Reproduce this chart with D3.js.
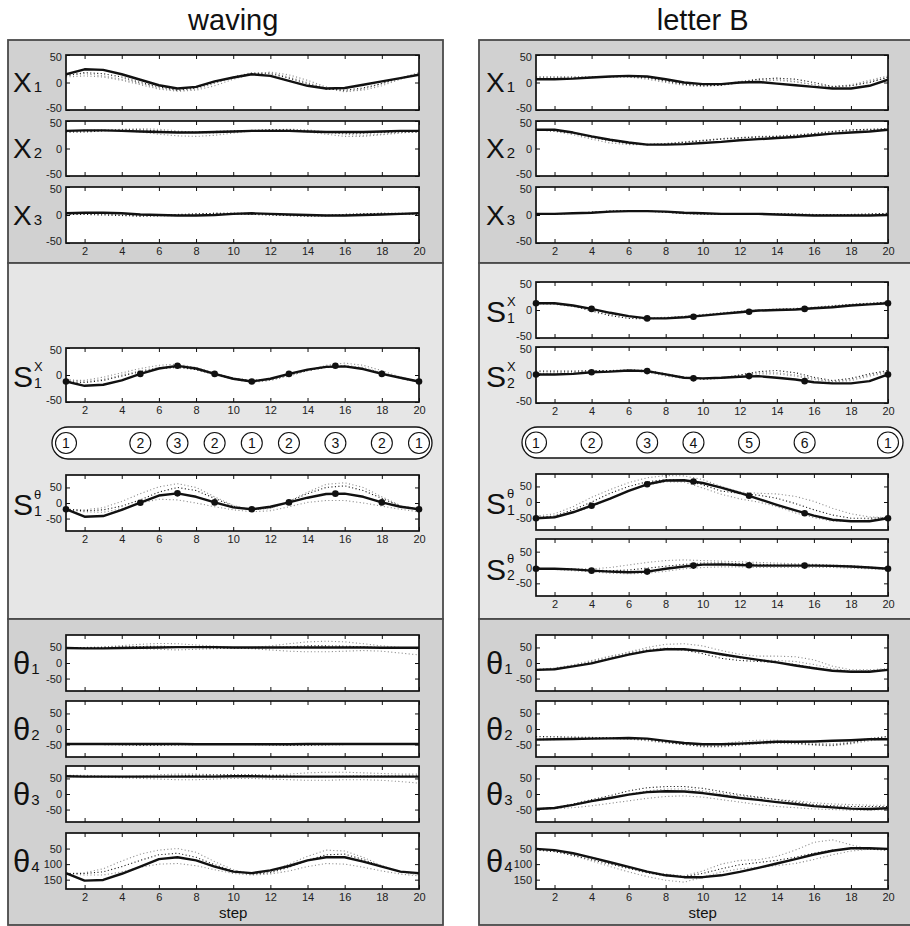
<!DOCTYPE html>
<html><head><meta charset="utf-8">
<script src="https://cdn.jsdelivr.net/npm/d3@7"></script>
<style>body{margin:0;background:#fff} svg{display:block} text{font-family:"Liberation Sans",Arial,Helvetica,sans-serif}</style>
</head><body><svg id="c" width="910" height="926"></svg>
<script>
// ---------------- DATA ----------------
const steps = [1,2,3,4,5,6,7,8,9,10,11,12,13,14,15,16,17,18,19,20];
const xTicks = [2,4,6,8,10,12,14,16,18,20];
const yTicksStd = [-50,0,50];
const yTicksTheta4 = [50,100,150];
const columnTitles = ["waving","letter B"];

// waving
const wavingX1 = [15,24,23,15,5,-5,-11,-8,2,9,15,12,3,-6,-11,-10,-4,2,8,14];
const wavingX1Trials = [
  [10,12,10,4,-4,-12,-16,-14,-6,6,15,19,14,4,-8,-16,-14,-6,6,17],
  [14,16,12,6,-2,-10,-15,-12,-2,10,18,18,10,0,-10,-17,-12,-2,8,18],
  [12,18,16,10,0,-8,-14,-10,0,10,16,16,8,-2,-12,-14,-10,-2,8,15]];
const wavingX2 = [32,33,33,32,31,30,29,29,30,31,32,32,32,31,30,30,30,31,32,32];
const wavingX2Trials = [
  [30,31,33,35,36,35,32,29,28,30,32,34,35,34,30,26,24,26,29,30],
  [32,33,34,33,30,26,23,22,24,28,32,34,33,30,26,22,22,25,28,31],
  [30,30,32,34,34,32,30,30,31,32,33,34,34,32,29,28,28,29,30,30]];
const wavingX3 = [3,4,4,3,1,0,-1,-1,0,2,3,2,1,0,-1,-1,0,1,2,3];
const wavingX3Trials = [
  [3,3,2,0,-2,-2,-1,1,3,4,3,1,-1,-2,-2,0,2,3,3,3],
  [2,2,1,0,-1,-1,0,2,3,3,2,0,-1,-1,0,1,2,3,3,2],
  [1,1,0,-1,-2,-1,1,2,3,2,1,0,-1,-2,-1,1,2,3,2,1]];
const wavingS1x = [-12,-20,-18,-10,2,12,17,12,2,-7,-12,-7,2,10,15,16,11,2,-5,-12];
const wavingS1xTrials = [
  [-10,-10,-4,4,12,18,20,14,4,-6,-12,-10,-2,8,18,22,18,8,-4,-12],
  [-8,-12,-8,0,8,14,16,10,0,-8,-14,-10,0,10,16,18,14,4,-6,-14],
  [-12,-14,-10,-2,6,12,14,10,2,-6,-10,-8,0,8,14,16,12,4,-6,-14]];
const wavingKeySteps = [1,5,7,9,11,13,15.5,18,20];
const wavingKeyLabels = ["1","2","3","2","1","2","3","2","1"];
const wavingS1xKeys = [-12,2,17,2,-12,2,17,2,-12];
const wavingS1t = [-20,-44,-42,-22,1,24,31,20,2,-14,-20,-12,2,17,29,30,20,2,-12,-20];
const wavingS1tTrials = [
  [-20,-22,-15,5,30,52,62,50,20,-8,-22,-18,5,35,60,65,50,20,-8,-22],
  [-22,-28,-30,-18,0,12,10,0,-12,-22,-28,-25,-12,2,8,8,0,-10,-20,-28],
  [-20,-25,-22,-10,10,35,50,40,15,-10,-22,-15,5,30,50,55,40,15,-10,-20]];
const wavingS1tKeys = [-20,1,31,2,-20,2,30,2,-20];
const wavingT1 = [48,47,47,48,49,50,51,51,51,50,50,50,50,50,50,50,50,49,49,49];
const wavingT1Trials = [
  [50,50,52,56,60,63,62,58,54,50,50,55,62,68,70,68,62,55,50,48],
  [50,48,48,48,46,44,42,44,46,48,46,42,38,36,36,38,40,38,32,26],
  [50,50,50,52,53,54,52,50,48,48,48,50,52,55,55,54,52,50,48,46]];
const wavingT2 = [-48,-48,-48,-48,-48,-48,-48,-49,-49,-49,-49,-49,-49,-48,-48,-48,-48,-48,-48,-48];
const wavingT2Trials = [
  [-48,-48,-49,-50,-51,-51,-50,-49,-48,-48,-49,-50,-51,-51,-50,-49,-48,-48,-48,-48],
  [-47,-47,-47,-48,-49,-49,-49,-48,-47,-47,-47,-48,-49,-50,-49,-48,-47,-47,-47,-47],
  [-49,-49,-50,-51,-52,-52,-51,-50,-49,-49,-50,-51,-52,-52,-51,-50,-49,-49,-49,-49]];
const wavingT3 = [57,56,56,56,56,56,56,56,56,57,57,56,56,56,56,56,56,56,56,56];
const wavingT3Trials = [
  [60,60,58,56,58,62,64,64,62,60,58,60,64,68,70,70,68,66,64,64],
  [56,55,54,52,50,48,46,46,48,50,50,48,46,44,44,46,46,44,40,35],
  [58,57,56,55,55,56,58,60,61,62,62,60,58,56,56,57,58,58,58,58]];
const wavingT4 = [129,153,151,131,108,84,78,88,108,124,129,120,106,88,78,78,92,108,124,129];
const wavingT4Trials = [
  [130,128,115,90,68,55,50,62,92,118,132,125,100,75,55,58,78,105,125,135],
  [130,135,135,125,110,100,98,105,118,130,135,132,122,108,98,100,110,122,132,138],
  [130,130,125,108,88,70,65,78,102,122,132,128,110,88,70,68,85,108,125,132]];

// letter B
const letterX1 = [6,6,7,9,11,12,11,6,0,-3,-3,0,1,-2,-5,-8,-11,-11,-6,5];
const letterX1Trials = [
  [8,8,8,9,10,10,8,2,-4,-6,-4,2,6,6,2,-4,-8,-4,4,12],
  [6,7,8,9,10,10,6,0,-5,-7,-5,0,3,4,1,-4,-8,-6,2,8],
  [10,10,10,10,11,11,9,3,-3,-6,-5,0,6,8,6,0,-7,-6,0,10]];
const letterX2 = [34,34,29,22,16,11,7,7,8,10,12,15,17,19,21,24,27,29,31,34];
const letterX2Trials = [
  [34,31,25,17,10,7,7,9,12,15,18,20,21,22,23,26,29,32,34,35],
  [35,33,29,22,15,10,8,9,12,15,18,20,22,23,25,28,31,33,34,35],
  [34,32,28,20,14,9,7,8,11,14,17,19,21,22,24,27,31,34,35,36]];
const letterX3 = [2,2,3,4,6,7,7,6,4,3,2,2,2,1,0,-1,-1,-1,-1,0];
const letterX3Trials = [
  [1,2,3,5,7,8,7,5,2,1,1,2,2,2,1,0,0,0,1,2],
  [2,2,3,4,6,7,7,5,3,2,1,1,1,1,1,0,-1,0,1,2],
  [2,2,3,5,7,8,7,5,3,2,2,2,2,2,2,1,1,1,2,3]];
const letterKeySteps = [1,4,7,9.5,12.5,15.5,20];
const letterKeyLabels = ["1","2","3","4","5","6","1"];
const letterS1x = [12,12,8,2,-5,-11,-15,-15,-13,-10,-7,-4,-1,0,1,3,5,8,10,12];
const letterS1xTrials = [
  [12,10,6,0,-8,-12,-14,-13,-11,-8,-5,-2,0,2,3,5,8,10,12,13],
  [11,11,8,2,-5,-11,-15,-15,-13,-10,-7,-4,-2,0,1,3,6,9,11,12],
  [12,12,8,-2,-10,-15,-16,-14,-12,-9,-6,-3,-1,1,2,4,7,10,12,14]];
const letterS1xKeys = [12,2,-15,-12,-3,2,12];
const letterS2x = [1,1,2,5,6,8,7,1,-5,-6,-5,-3,-2,-5,-8,-13,-15,-15,-11,1];
const letterS2xTrials = [
  [3,4,5,6,7,8,6,0,-5,-7,-5,0,4,4,0,-6,-12,-8,0,6],
  [2,3,5,7,8,8,5,-2,-6,-8,-6,-2,2,2,-2,-8,-12,-10,-2,4],
  [7,7,7,8,8,9,8,2,-4,-7,-6,0,6,8,4,-4,-10,-6,2,8]];
const letterS2xKeys = [1,5,7,-6,-2,-11,1];
const letterS1t = [-52,-49,-33,-12,11,36,57,69,70,61,46,29,10,-9,-27,-44,-57,-62,-62,-52];
const letterS1tTrials = [
  [-45,-38,-15,15,40,62,78,85,84,72,50,32,28,26,18,2,-20,-38,-48,-50],
  [-52,-48,-35,-15,10,35,55,65,64,45,25,10,0,-15,-35,-50,-62,-62,-58,-50],
  [-50,-45,-25,0,28,50,65,72,70,55,35,28,22,12,-5,-25,-42,-52,-52,-50]];
const letterS1tKeys = [-52,-12,57,66,20,-36,-52];
const letterS2t = [-4,-4,-6,-10,-13,-15,-13,-4,3,9,10,8,6,6,6,6,5,3,0,-4];
const letterS2tTrials = [
  [-4,-4,-4,-4,0,8,16,22,24,22,20,18,16,14,12,10,8,6,2,-4],
  [-4,-6,-10,-14,-18,-20,-18,-12,-4,0,2,2,0,0,0,0,0,-2,-4,-6],
  [-4,-5,-6,-8,-10,-8,-2,4,10,14,14,12,10,8,8,8,6,4,0,-4]];
const letterS2tKeys = [-4,-10,-13,6,7,6,-4];
const letterT1 = [-22,-20,-11,-1,13,27,38,44,44,38,28,19,10,2,-8,-17,-25,-28,-28,-22];
const letterT1Trials = [
  [-22,-18,-8,5,20,35,50,60,62,55,40,28,22,22,20,10,-10,-22,-22,-18],
  [-20,-16,-6,8,22,34,44,48,46,38,25,15,10,8,5,-5,-18,-26,-26,-20],
  [-22,-20,-10,2,15,30,40,45,42,30,15,8,5,2,-5,-15,-25,-28,-26,-22]];
const letterT2 = [-34,-33,-32,-31,-30,-29,-31,-38,-45,-49,-49,-47,-44,-41,-41,-40,-38,-36,-33,-33];
const letterT2Trials = [
  [-30,-30,-30,-30,-30,-32,-38,-45,-50,-52,-48,-40,-36,-36,-40,-46,-48,-42,-30,-24],
  [-34,-34,-33,-32,-31,-32,-36,-42,-48,-58,-58,-52,-48,-46,-48,-52,-54,-48,-38,-30],
  [-24,-25,-26,-27,-28,-30,-34,-42,-50,-55,-55,-50,-45,-42,-45,-50,-52,-45,-32,-24]];
const letterT3 = [-48,-45,-35,-23,-13,-2,6,9,8,3,-5,-13,-19,-26,-32,-39,-43,-47,-48,-46];
const letterT3Trials = [
  [-50,-46,-36,-24,-12,0,10,16,16,10,2,-6,-12,-18,-22,-28,-32,-34,-36,-36],
  [-48,-47,-44,-38,-30,-22,-14,-8,-6,-10,-18,-26,-34,-40,-44,-48,-50,-52,-52,-50],
  [-48,-44,-32,-18,-5,10,20,24,24,18,8,-2,-10,-18,-26,-34,-38,-40,-40,-40]];
const letterT4 = [51,55,65,79,94,109,124,136,142,142,136,125,112,98,84,69,57,49,49,51];
const letterT4Trials = [
  [52,55,65,78,95,112,125,132,138,122,100,88,86,75,55,30,22,38,52,55],
  [52,58,72,90,108,125,140,152,158,142,125,115,110,105,98,85,70,58,52,52],
  [55,60,72,86,100,114,128,138,140,130,115,102,95,88,78,65,55,50,52,55]];

// ---------------- DRAWING ----------------
const svg = d3.select("#c");
const FONT = '"Liberation Sans",Arial,Helvetica,sans-serif';
const trialStyles = [{c:"#8e8e8e"},{c:"#8e8e8e"},{c:"#1a1a1a"}];
let clipId = 0;

function bigLabel(kind, lx, cy, letter, sub, sup){
  const g = svg.append("g").attr("fill","#111");
  if(kind==="X"){
    const t = g.append("text").attr("x",lx).attr("y",cy+9.5).attr("font-size",28).text(letter);
    t.append("tspan").attr("font-size",15).attr("dx",2).text(sub);
  } else if(kind==="S"){
    g.append("text").attr("x",lx).attr("y",cy+12).attr("font-size",30).text("S");
    g.append("text").attr("x",lx+21).attr("y",cy-4.5).attr("font-size",13).text(sup);
    g.append("text").attr("x",lx+21).attr("y",cy+12.5).attr("font-size",14).text(sub);
  } else {
    const t = g.append("text").attr("x",lx).attr("y",cy+11).attr("font-size",31).text("θ");
    t.append("tspan").attr("font-size",15).attr("dx",1).text(sub);
  }
}

function drawPlot(cfg){
  const x = d3.scaleLinear().domain([1,20]).range([cfg.x0,cfg.x1]);
  const y = d3.scaleLinear().domain(cfg.yDomain).range([cfg.y1,cfg.y0]);
  const g = svg.append("g");
  const id = "clip"+(clipId++);
  g.append("clipPath").attr("id",id).append("rect")
    .attr("x",cfg.x0).attr("y",cfg.y0).attr("width",cfg.x1-cfg.x0).attr("height",cfg.y1-cfg.y0);
  g.append("rect").attr("x",cfg.x0).attr("y",cfg.y0).attr("width",cfg.x1-cfg.x0).attr("height",cfg.y1-cfg.y0).attr("fill","#fff");
  const line = d3.line().x((d,i)=>x(steps[i])).y(d=>y(d));
  const lg = g.append("g").attr("clip-path",`url(#${id})`);
  cfg.trials.forEach((t,i)=>{
    lg.append("path").datum(t).attr("d",line).attr("fill","none")
      .attr("stroke",trialStyles[i].c).attr("stroke-width",1.1).attr("stroke-dasharray","1.1,2.4");
  });
  lg.append("path").datum(cfg.mean).attr("d",line).attr("fill","none")
    .attr("stroke","#111").attr("stroke-width",2.4).attr("stroke-linejoin","round");
  if(cfg.keys){
    g.selectAll(null).data(cfg.keys).enter().append("circle")
      .attr("cx",(d,i)=>x(cfg.keySteps[i])).attr("cy",d=>y(d)).attr("r",3.3).attr("fill","#111");
  }
  const fmt = d=>String(d);
  const style = a=>{a.select(".domain").remove(); a.selectAll("line").attr("stroke","#111").attr("stroke-width",1);
    a.selectAll("text").attr("fill","#222").attr("font-family",FONT).attr("font-size",11);};
  g.append("g").attr("transform",`translate(0,${cfg.y1})`)
    .call(d3.axisBottom(x).tickValues(xTicks).tickSize(-4).tickPadding(4).tickFormat(cfg.xLabels?fmt:()=>""))
    .call(style);
  g.append("g").attr("transform",`translate(0,${cfg.y0})`)
    .call(d3.axisTop(x).tickValues(xTicks).tickSize(-4).tickFormat(()=>"")).call(style);
  const ya = g.append("g").attr("transform",`translate(${cfg.x0},0)`)
    .call(d3.axisLeft(y).tickValues(cfg.yTicks).tickSize(-4).tickPadding(4).tickFormat(fmt)).call(style);
  // nudge edge labels slightly inward (as in the reference)
  ya.selectAll(".tick text").attr("y", d => {
    const py = y(d);
    if (Math.abs(py-cfg.y0) < 3) return 2;
    if (Math.abs(py-cfg.y1) < 3) return -2;
    return 0;
  });
  g.append("g").attr("transform",`translate(${cfg.x1},0)`)
    .call(d3.axisRight(y).tickValues(cfg.yTicks).tickSize(-4).tickFormat(()=>"")).call(style);
  g.append("rect").attr("x",cfg.x0).attr("y",cfg.y0).attr("width",cfg.x1-cfg.x0).attr("height",cfg.y1-cfg.y0)
    .attr("fill","none").attr("stroke","#111").attr("stroke-width",1.7);
  const cy = (cfg.y0+cfg.y1)/2;
  bigLabel(cfg.kind, cfg.x0-(cfg.col===0?53:50), cy, cfg.letter, cfg.sub, cfg.sup);
  return x;
}

function capsule(x, col, y0, y1, keySteps, labels){
  const left = col===0?52:522, right = col===0?432:903;
  const h = y1-y0;
  svg.append("rect").attr("x",left).attr("y",y0).attr("width",right-left).attr("height",h)
    .attr("rx",h/2).attr("ry",h/2).attr("fill","#fff").attr("stroke","#111").attr("stroke-width",1.3);
  const cy=(y0+y1)/2;
  const g = svg.append("g");
  const sel = g.selectAll(null).data(keySteps).enter().append("g")
    .attr("transform",d=>`translate(${x(d)},${cy})`);
  sel.append("circle").attr("r",10.5).attr("fill","#fff").attr("stroke","#111").attr("stroke-width",1.1);
  sel.append("text").attr("text-anchor","middle").attr("dy","0.36em").attr("font-size",14).attr("fill","#111")
    .text((d,i)=>labels[i]);
}

const cols = [
  {px0:8, px1:443, x0:66, x1:419},
  {px0:479, px1:913, x0:536, x1:888}
];
const panelY = [40,263,619,925];
const panelFill = ["#d1d1d1","#e6e6e6","#d1d1d1"];

cols.forEach((c,ci)=>{
  for(let k=0;k<3;k++){
    svg.append("rect").attr("x",c.px0).attr("y",panelY[k]).attr("width",c.px1-c.px0).attr("height",panelY[k+1]-panelY[k])
      .attr("fill",panelFill[k]).attr("stroke","#4a4a4a").attr("stroke-width",1.8);
  }
  const xs = d3.scaleLinear().domain([1,20]).range([c.x0,c.x1]);
  svg.append("text").attr("x",xs(10)).attr("y",30).attr("text-anchor","middle").attr("font-size",29).attr("fill","#111")
    .text(columnTitles[ci]);
  svg.append("text").attr("x",xs(10)).attr("y",918).attr("text-anchor","middle").attr("font-size",15).attr("fill","#111")
    .text("step");
});

function P(col, y0, y1, kind, letter, sub, sup, mean, trials, yDomain, yTicks, xLabels, keySteps, keys){
  const c = cols[col];
  return drawPlot({col, x0:c.x0, x1:c.x1, y0, y1, kind, letter, sub, sup, mean, trials, yDomain, yTicks, xLabels, keySteps, keys});
}

// waving column
P(0,55,110,"X","X","1",null,wavingX1,wavingX1Trials,[-50,50],yTicksStd,false);
P(0,121,176,"X","X","2",null,wavingX2,wavingX2Trials,[-50,50],yTicksStd,false);
P(0,187,243,"X","X","3",null,wavingX3,wavingX3Trials,[-50,50],yTicksStd,true);
const xw = P(0,348,402,"S","S","1","X",wavingS1x,wavingS1xTrials,[-50,50],yTicksStd,true,wavingKeySteps,wavingS1xKeys);
capsule(xw,0,427,459,wavingKeySteps,wavingKeyLabels);
P(0,475,531,"S","S","1","θ",wavingS1t,wavingS1tTrials,[-90,90],yTicksStd,true,wavingKeySteps,wavingS1tKeys);
P(0,635,691,"T","θ","1",null,wavingT1,wavingT1Trials,[-90,90],yTicksStd,false);
P(0,701,757,"T","θ","2",null,wavingT2,wavingT2Trials,[-90,90],yTicksStd,false);
P(0,766,822,"T","θ","3",null,wavingT3,wavingT3Trials,[-90,90],yTicksStd,false);
P(0,833,889,"T","θ","4",null,wavingT4,wavingT4Trials,[180,0],yTicksTheta4,true);

// letter B column
P(1,55,110,"X","X","1",null,letterX1,letterX1Trials,[-50,50],yTicksStd,false);
P(1,121,176,"X","X","2",null,letterX2,letterX2Trials,[-50,50],yTicksStd,false);
P(1,187,243,"X","X","3",null,letterX3,letterX3Trials,[-50,50],yTicksStd,true);
P(1,282,338,"S","S","1","X",letterS1x,letterS1xTrials,[-50,50],yTicksStd,false,letterKeySteps,letterS1xKeys);
const xl = P(1,347,403,"S","S","2","X",letterS2x,letterS2xTrials,[-50,50],yTicksStd,true,letterKeySteps,letterS2xKeys);
capsule(xl,1,427,458,letterKeySteps,letterKeyLabels);
P(1,474,530,"S","S","1","θ",letterS1t,letterS1tTrials,[-90,90],yTicksStd,false,letterKeySteps,letterS1tKeys);
P(1,539,596,"S","S","2","θ",letterS2t,letterS2tTrials,[-90,90],yTicksStd,true,letterKeySteps,letterS2tKeys);
P(1,635,691,"T","θ","1",null,letterT1,letterT1Trials,[-90,90],yTicksStd,false);
P(1,701,757,"T","θ","2",null,letterT2,letterT2Trials,[-90,90],yTicksStd,false);
P(1,766,822,"T","θ","3",null,letterT3,letterT3Trials,[-90,90],yTicksStd,false);
P(1,833,889,"T","θ","4",null,letterT4,letterT4Trials,[180,0],yTicksTheta4,true);
</script></body></html>
